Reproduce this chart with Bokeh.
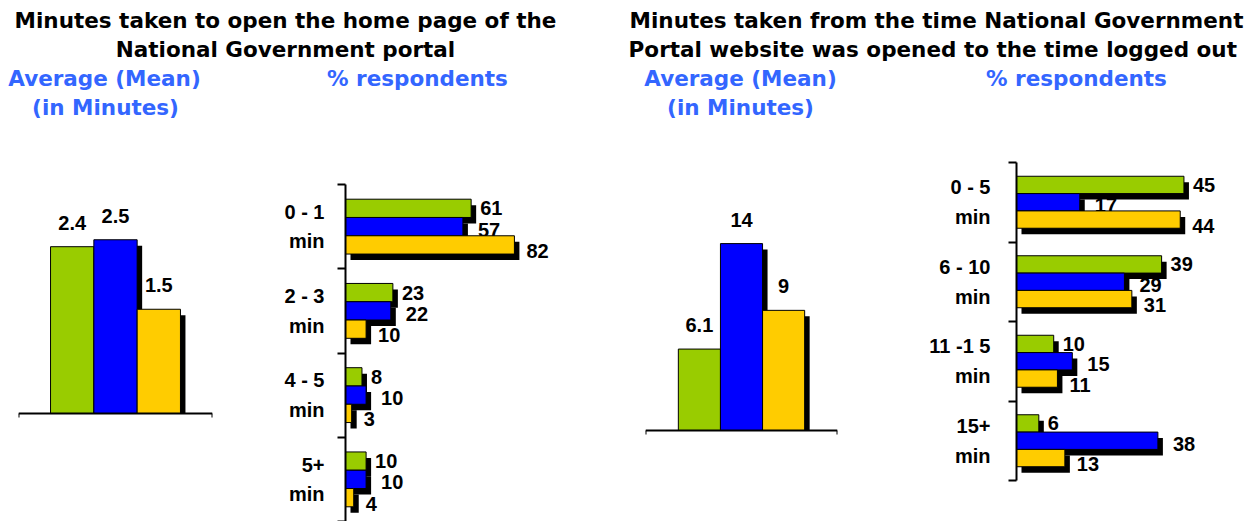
from bokeh.plotting import figure
from bokeh.layouts import row, column
from bokeh.models import Range1d, FixedTicker, LinearAxis, ColumnDataSource
from bokeh.core.properties import value
from bokeh.embed import file_html
from bokeh.resources import INLINE

# ---- data -------------------------------------------------------------
series_colors = ["#99CC00", "#0000FF", "#FFCC00"]

# Minutes taken to open the home page
load_mean = [2.4, 2.5, 1.5]
load_cats = ["0 - 1\nmin", "2 - 3\nmin", "4 - 5\nmin", "5+\nmin"]
load_green = [61, 23, 8, 10]
load_blue = [57, 22, 10, 10]
load_yellow = [82, 10, 3, 4]

# Minutes from opening the portal to logging out
session_mean = [6.1, 14, 9]
session_cats = ["0 - 5\nmin", "6 - 10\nmin", "11 -1 5\nmin", "15+\nmin"]
session_green = [45, 39, 10, 6]
session_blue = [17, 29, 15, 38]
session_yellow = [44, 31, 11, 13]

# ---- styling ----------------------------------------------------------
HEAD_FONT = value("DejaVu Sans")
NUM_FONT = value("Liberation Sans")
SUB_BLUE = "#3366FF"
SHADOW_DX, SHADOW_DY = 5, 6      # drop shadow offset in screen pixels
PANEL_H = 401                    # height of the chart row under each header
HEAD_H = 120
LABEL_DX = [9, 15, 12]           # value label nudges per series (screen px)
LABEL_DY = [0, 3, 6]


def blank_fig(width, height, x_range, y_range, left=0, right=0, top=0, bottom=0):
    p = figure(width=width, height=height, x_range=x_range, y_range=y_range,
               x_axis_type=None, y_axis_type=None, toolbar_location=None,
               output_backend="svg", min_border_left=left, min_border_right=right,
               min_border_top=top, min_border_bottom=bottom)
    p.outline_line_color = None
    p.background_fill_color = "white"
    p.border_fill_color = "white"
    return p


def header(width, lines):
    p = blank_fig(width, HEAD_H, Range1d(0, width), Range1d(HEAD_H, 0))
    for txt, x, y, color in lines:
        p.text(x=[x], y=[y], text=[txt], text_font=HEAD_FONT, text_font_style="bold",
               text_font_size="21.5px", text_color=color, text_align="center",
               text_baseline="middle")
    return p


def mean_chart(values, width, left, right, top, bottom, x_range, base_px, px_per_min):
    """Vertical bars; the baseline sits base_px below the top of the panel."""
    p_frame_h = PANEL_H - top - bottom
    below = (PANEL_H - bottom - base_px) / px_per_min
    above = (base_px - top) / px_per_min
    y_range = Range1d(-below, above)
    p = blank_fig(width, PANEL_H, x_range, y_range, left=left, right=right,
                  top=top, bottom=bottom)
    frame_w = width - left - right
    ux = (x_range.end - x_range.start) / frame_w
    uy = (above + below) / p_frame_h
    xs = list(range(len(values)))
    src = ColumnDataSource(dict(x=xs, top=values, color=series_colors,
                                sx=[x + SHADOW_DX * ux for x in xs],
                                stop=[v - SHADOW_DY * uy for v in values],
                                label=[f"{v:g}" for v in values]))
    p.vbar(x="sx", top="stop", bottom=0, width=1, source=src,
           fill_color="black", line_color=None)
    p.vbar(x="x", top="top", bottom=0, width=1, source=src,
           fill_color="color", line_color="black", line_width=1)
    p.text(x="x", y="top", text="label", source=src, y_offset=-24,
           text_align="center", text_baseline="middle", text_font=NUM_FONT,
           text_font_style="bold", text_font_size="20px", text_color="black")
    ax = LinearAxis(ticker=FixedTicker(ticks=[x_range.start, x_range.end]),
                    fixed_location=0)
    ax.axis_line_width = 2
    ax.axis_line_color = "black"
    ax.major_tick_line_width = 2
    ax.major_tick_out = 4
    ax.major_tick_in = 0
    ax.major_label_text_color = None
    ax.major_label_text_font_size = "0px"
    ax.major_label_standoff = 0
    ax.minor_tick_line_color = None
    p.add_layout(ax, "below")
    return p


def share_chart(cats, groups, width, left, top, bottom, x_max, standoff, bar_h):
    x_range = Range1d(0, x_max)
    y_range = Range1d(len(cats) - 0.5, -0.5)
    p = blank_fig(width, PANEL_H, x_range, y_range, left=left, right=0,
                  top=top, bottom=bottom)
    frame_w = width - left
    frame_h = PANEL_H - top - bottom
    ux = x_max / frame_w
    uy = len(cats) / frame_h

    layers = []
    for k, vals in enumerate(groups):
        ys = [i + (k - 1) * bar_h for i in range(len(cats))]
        layers.append(ColumnDataSource(dict(
            y=ys, right=vals, label=[str(v) for v in vals],
            sy=[y + SHADOW_DY * uy for y in ys],
            sright=[v + SHADOW_DX * ux for v in vals])))

    # value labels sit underneath the bars
    for k, src in enumerate(layers):
        p.text(x="right", y="y", text="label", source=src, x_offset=LABEL_DX[k],
               y_offset=LABEL_DY[k], text_align="left", text_baseline="middle",
               text_font=NUM_FONT, text_font_style="bold", text_font_size="20px",
               text_color="black")
    for src in layers:
        p.hbar(y="sy", left=SHADOW_DX * ux, right="sright", height=bar_h,
               source=src, fill_color="black", line_color=None)
    for k, src in enumerate(layers):
        p.hbar(y="y", left=0, right="right", height=bar_h, source=src,
               fill_color=series_colors[k], line_color="black", line_width=1)

    n = len(cats)
    ax = LinearAxis(ticker=FixedTicker(ticks=list(range(n)),
                                       minor_ticks=[i - 0.5 for i in range(n + 1)]),
                    major_label_overrides={i: c for i, c in enumerate(cats)})
    ax.axis_line_width = 2
    ax.axis_line_color = "black"
    ax.major_tick_line_color = None
    ax.major_tick_in = 0
    ax.major_tick_out = 0
    ax.minor_tick_line_color = "black"
    ax.minor_tick_line_width = 2
    ax.minor_tick_in = 0
    ax.minor_tick_out = 8
    ax.major_label_standoff = standoff
    ax.major_label_text_font = "Liberation Sans"
    ax.major_label_text_font_style = "bold"
    ax.major_label_text_font_size = "20px"
    ax.major_label_text_color = "black"
    ax.major_label_text_line_height = 1.35
    p.add_layout(ax, "left")
    return p


left_head = header(620, [
    ("Minutes taken to open the home page of the", 285, 20, "black"),
    ("National Government portal", 285, 49, "black"),
    ("Average (Mean)", 104, 78, SUB_BLUE),
    ("(in Minutes)", 105, 107, SUB_BLUE),
    ("% respondents", 417, 78, SUB_BLUE),
])
right_head = header(636, [
    ("Minutes taken from the time National Government", 316, 20, "black"),
    ("Portal website was opened  to the time logged out", 316, 49, "black"),
    ("Average (Mean)", 120, 78, SUB_BLUE),
    ("(in Minutes)", 120, 107, SUB_BLUE),
    ("% respondents", 456, 78, SUB_BLUE),
])

# charts sharing a row get the same top and bottom borders
left_mean = mean_chart(load_mean, 260, 18, 48, 64, 0,
                       Range1d(-1.24, 3.24), 293, 69.5)
left_share = share_chart(load_cats, [load_green, load_blue, load_yellow],
                         360, 85, 64, 0, 133.5, 13, 0.217)
right_mean = mean_chart(session_mean, 280, 25, 63, 42, 41,
                        Range1d(-1.28, 3.28), 310, 13.35)
right_share = share_chart(session_cats, [session_green, session_blue, session_yellow],
                          356, 116, 42, 41, 64.5, 18, 0.218)

page = row(
    column(left_head, row(left_mean, left_share, spacing=0), spacing=0),
    column(right_head, row(right_mean, right_share, spacing=0), spacing=0),
    spacing=0,
)

open("out.html", "w").write(file_html(page, INLINE))
